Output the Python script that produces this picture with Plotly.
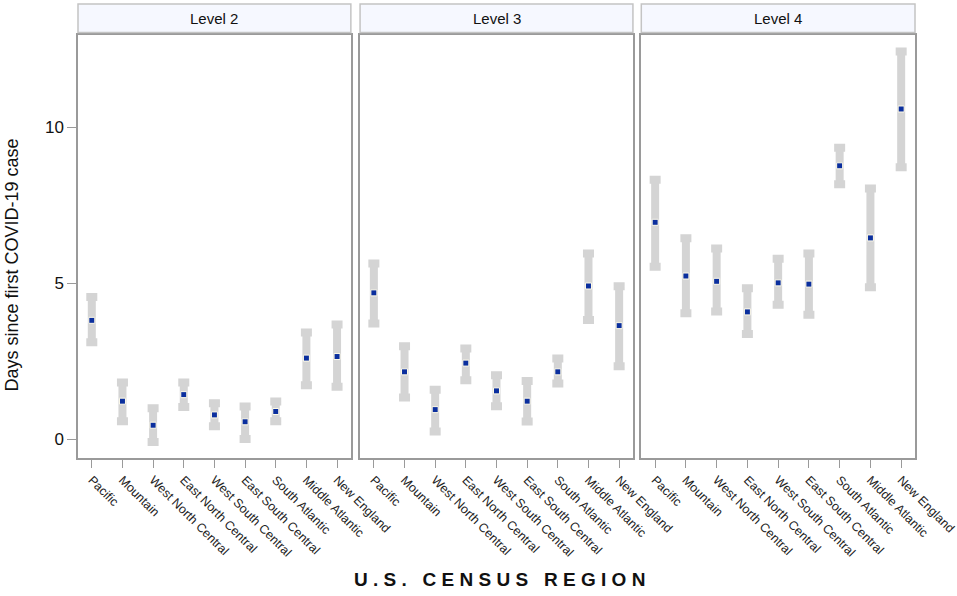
import plotly.graph_objects as go
from plotly.subplots import make_subplots

regions = ["Pacific", "Mountain", "West North Central", "East North Central",
           "West South Central", "East South Central", "South Atlantic",
           "Middle Atlantic", "New England"]
levels = ["Level 2", "Level 3", "Level 4"]

# point estimates and interval ends (days), one list per level
mean_l2 = [3.81, 1.22, 0.45, 1.43, 0.78, 0.56, 0.89, 2.60, 2.65]
upper_l2 = [4.56, 1.82, 0.99, 1.82, 1.15, 1.05, 1.21, 3.42, 3.68]
lower_l2 = [3.11, 0.58, -0.09, 1.03, 0.42, 0.01, 0.58, 1.73, 1.68]

mean_l3 = [4.69, 2.16, 0.95, 2.44, 1.55, 1.22, 2.16, 4.91, 3.64]
upper_l3 = [5.63, 2.98, 1.59, 2.91, 2.05, 1.87, 2.59, 5.95, 4.90]
lower_l3 = [3.71, 1.34, 0.25, 1.89, 1.06, 0.57, 1.79, 3.82, 2.34]

mean_l4 = [6.95, 5.23, 5.06, 4.08, 5.01, 4.97, 8.76, 6.45, 10.58]
upper_l4 = [8.31, 6.44, 6.11, 4.84, 5.78, 5.95, 9.34, 8.03, 12.42]
lower_l4 = [5.53, 4.04, 4.09, 3.37, 4.31, 3.99, 8.17, 4.87, 8.71]

means = [mean_l2, mean_l3, mean_l4]
uppers = [upper_l2, upper_l3, upper_l4]
lowers = [lower_l2, lower_l3, lower_l4]

font = "Arial, Liberation Sans, sans-serif"
fig = make_subplots(rows=1, cols=3, shared_yaxes=True, horizontal_spacing=0.01)

domains = [[0, 0.326], [0.337, 0.663], [0.673, 1.0]]
for i in range(3):
    m, up, lo = means[i], uppers[i], lowers[i]
    fig.add_trace(go.Scatter(
        x=regions, y=m, mode="markers",
        marker=dict(symbol="square", size=6, color="#0b2f9e",
                    line=dict(color="#fffbe8", width=1)),
        error_y=dict(type="data", symmetric=False,
                     array=[u - v for u, v in zip(up, m)],
                     arrayminus=[v - l for v, l in zip(m, lo)],
                     color="#d4d4d4", thickness=8, width=5.5),
        showlegend=False), row=1, col=i + 1)

    fig.update_xaxes(domain=domains[i], range=[-0.45, 8.45], showline=True,
                     mirror=True, linecolor="#9a9a9a", linewidth=1.5,
                     ticks="outside", ticklen=8, tickcolor="#9a9a9a",
                     tickangle=45, showgrid=False, automargin=False,
                     tickfont=dict(family=font, size=12.5, color="#222"),
                     row=1, col=i + 1)

    # panel header strip
    xr = "x domain" if i == 0 else f"x{i+1} domain"
    fig.add_shape(type="rect", xref=xr, yref="paper", x0=0, x1=1,
                  y0=1.006, y1=1.073, fillcolor="#f6f8ff",
                  line=dict(color="#c4c4c4", width=1.5))
    fig.add_annotation(text=levels[i], xref=xr, yref="paper", x=0.5, y=1.04,
                       yanchor="middle", showarrow=False,
                       font=dict(family=font, size=15, color="#111"))

fig.update_yaxes(range=[-0.6, 12.95], tickvals=[0, 5, 10], showgrid=False,
                 zeroline=False, showline=True, mirror=True, automargin=False,
                 linecolor="#9a9a9a", linewidth=1.5)
fig.update_yaxes(ticks="outside", ticklen=9, tickcolor="#9a9a9a",
                 tickfont=dict(family=font, size=17, color="#111"),
                 row=1, col=1)

fig.add_annotation(text="Days since first COVID-19 case", xref="paper",
                   yref="paper", x=-0.080, y=0.455, textangle=-90,
                   showarrow=False, xanchor="center", yanchor="middle",
                   font=dict(family=font, size=18, color="#111"))

nb = "\u00a0"
title = f"{nb * 3}".join(nb.join(w) for w in ["U.S.", "CENSUS", "REGION"])
fig.add_annotation(text=f"<b>{title}</b>", xref="paper", yref="paper",
                   x=0.504, y=-0.288, showarrow=False, yanchor="middle",
                   font=dict(family=font, size=19, color="#111"))

fig.update_layout(width=957, height=596, plot_bgcolor="white",
                  paper_bgcolor="white",
                  margin=dict(l=78, r=42, t=35, b=138))

# drop the default page margin so the figure sits at the window's corner
fig.write_html("out.html", config={"displayModeBar": False},
               post_script="document.body.style.margin = '0px';")
